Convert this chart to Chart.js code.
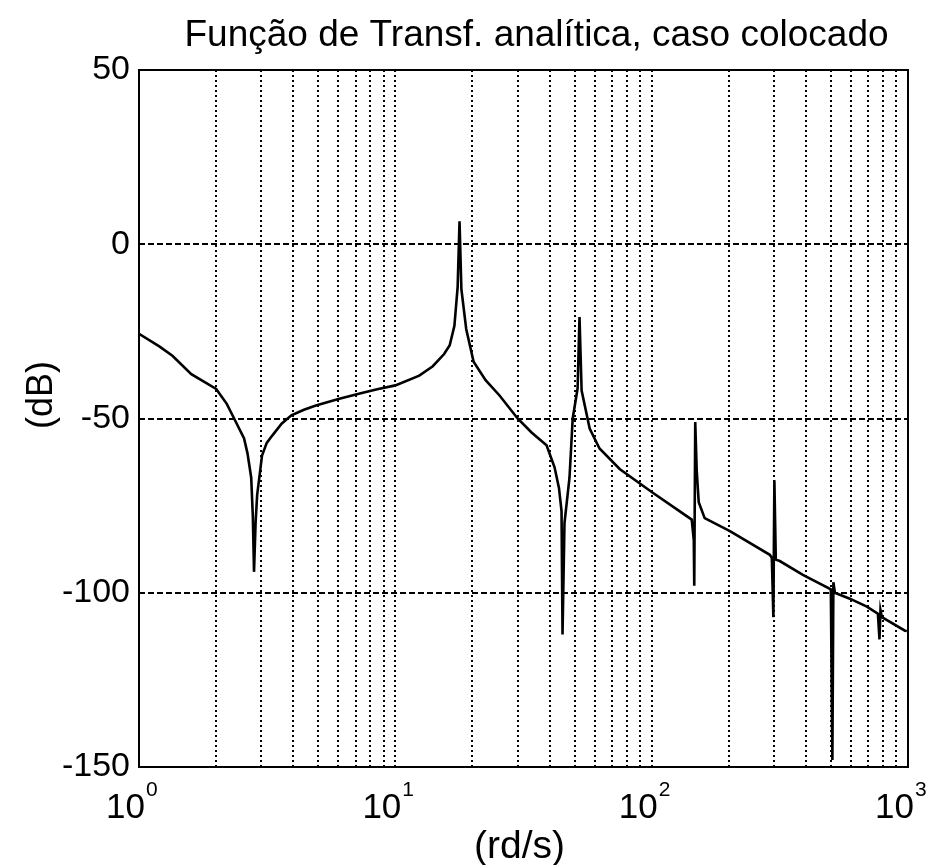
<!DOCTYPE html>
<html>
<head>
<meta charset="utf-8">
<script src="https://cdn.jsdelivr.net/npm/chart.js@4.4.1/dist/chart.umd.min.js"></script>
<style>
  html, body { margin: 0; padding: 0; background: #fff; }
  #wrap { position: relative; width: 933px; height: 865px; }
</style>
</head>
<body>
<div id="wrap"><canvas id="bode-chart"></canvas></div>
<script>
// frequencia (rd/s) e modulo (dB)
var freq = [1.0, 1.2, 1.35, 1.6, 2.0, 2.2, 2.35, 2.57, 2.65, 2.74, 2.78, 2.81, 2.85, 2.89, 3.02, 3.15, 3.31,
  3.6, 3.93, 4.4, 4.9, 6.0, 7.2, 8.5, 10, 12.4, 14.0, 15.5, 16.3, 17.0, 17.5, 17.8, 18.1, 18.9,
  20.2, 22.5, 25.5, 30.0, 34, 38.9, 41.8, 43.5, 44.5, 44.9, 45.7, 47.8, 49.2, 51.4, 52.3, 53.3,
  57.3, 62.6, 75.0, 101, 143.3, 146.0, 146.6, 147.9, 149.9, 152.6, 161, 202, 289,
  294.3, 298.4, 301.1, 305, 316, 389, 500, 507, 511.6, 518.6, 593, 691, 763, 774, 781, 791, 973, 990];
var modulo = [-25.7, -29.3, -32, -37.3, -41.5, -45.8, -50, -55.7, -60, -67, -78, -94, -80, -72, -60.6, -57, -54.9,
  -51.5, -49.1, -47.5, -46.3, -44.4, -42.9, -41.6, -40.5, -37.7, -35, -31.5, -29, -23.4, -12.3, 6.6, -12.9, -24.3,
  -33.7, -39, -43.4, -50, -54, -57.7, -64, -70, -76.6, -112, -80, -67, -50, -41.4, -20.9, -42,
  -52.9, -58.6, -64.5, -71.3, -79, -85, -98, -51, -65, -74, -78.6, -82.3, -89.1,
  -90, -107, -67.7, -90.5, -90.9, -94.9, -99, -148, -97, -100, -101.7, -104, -106, -113.4, -105, -107, -110.9, -111];

// grelha do eixo x (decadas e subdivisoes) e rotulos
var xGrid = [1, 2, 3, 4, 5, 6, 7, 8, 9, 10, 20, 30, 40, 50, 60, 70, 80, 90,
  100, 200, 300, 400, 500, 600, 700, 800, 900, 1000];
var xDecadas = [1, 10, 100, 1000];
var xExpoentes = ["0", "1", "2", "3"];
var yTicks = [-150, -100, -50, 0, 50];

var titulo = "Função de Transf. analítica, caso colocado";
var tituloX = "(rd/s)";
var tituloY = "(dB)";

var fonte = "'Liberation Sans', Arial, sans-serif";

var pontos = freq.map(function (f, i) { return { x: f, y: modulo[i] }; });

var textos = {
  id: "textos",
  afterDraw: function (chart) {
    var a = chart.chartArea, ctx = chart.ctx;
    var sx = chart.scales.x, sy = chart.scales.y;
    ctx.save();
    // moldura
    ctx.strokeStyle = "#000";
    ctx.lineWidth = 2;
    ctx.setLineDash([]);
    ctx.strokeRect(a.left, a.top, a.right - a.left, a.bottom - a.top);

    ctx.fillStyle = "#000";
    // titulo
    ctx.font = "37px " + fonte;
    ctx.textAlign = "center";
    ctx.textBaseline = "alphabetic";
    ctx.fillText(titulo, (a.left + a.right) / 2 + 13, 46);

    // rotulos do eixo y
    ctx.font = "34px " + fonte;
    ctx.textAlign = "right";
    ctx.textBaseline = "middle";
    yTicks.forEach(function (v) {
      ctx.fillText(String(v), a.left - 9, sy.getPixelForValue(v));
    });

    // rotulos do eixo x: 10 com expoente
    xDecadas.forEach(function (v, i) {
      var px = sx.getPixelForValue(v);
      ctx.font = "35px " + fonte;
      ctx.textAlign = "right";
      ctx.textBaseline = "alphabetic";
      ctx.fillText("10", px + 6, 818);
      ctx.font = "21px " + fonte;
      ctx.textAlign = "left";
      ctx.fillText(xExpoentes[i], px + 7, 796);
    });

    // titulos dos eixos
    ctx.font = "39px " + fonte;
    ctx.textAlign = "center";
    ctx.fillText(tituloX, (a.left + a.right) / 2 - 4, 858);

    ctx.translate(42, 395);
    ctx.rotate(-Math.PI / 2);
    ctx.font = "36px " + fonte;
    ctx.textBaseline = "middle";
    ctx.fillText(tituloY, 0, 0);
    ctx.restore();
  }
};

var config = {
  type: "line",
  data: {
    datasets: [{
      data: pontos,
      borderColor: "#000",
      borderWidth: 2.6,
      pointRadius: 0,
      tension: 0,
      fill: false
    }]
  },
  options: {
    responsive: false,
    animation: false,
    layout: { padding: { left: 139, right: 25, top: 70, bottom: 98 } },
    plugins: {
      legend: { display: false },
      tooltip: { enabled: false },
      title: { display: false }
    },
    scales: {
      x: {
        type: "logarithmic",
        min: 1,
        max: 1000,
        afterBuildTicks: function (s) { s.ticks = xGrid.map(function (v) { return { value: v }; }); },
        ticks: { display: false },
        grid: { color: "#000", lineWidth: 2, drawTicks: false },
        border: { display: false, dash: [2, 3] }
      },
      y: {
        min: -150,
        max: 50,
        afterBuildTicks: function (s) { s.ticks = yTicks.map(function (v) { return { value: v }; }); },
        ticks: { display: false },
        grid: { color: "#000", lineWidth: 2, drawTicks: false },
        border: { display: false, dash: [6, 3] }
      }
    }
  },
  plugins: [textos]
};

var canvas = document.getElementById("bode-chart");
canvas.width = 933;
canvas.height = 865;
new Chart(canvas.getContext("2d"), config);
</script>
</body>
</html>
